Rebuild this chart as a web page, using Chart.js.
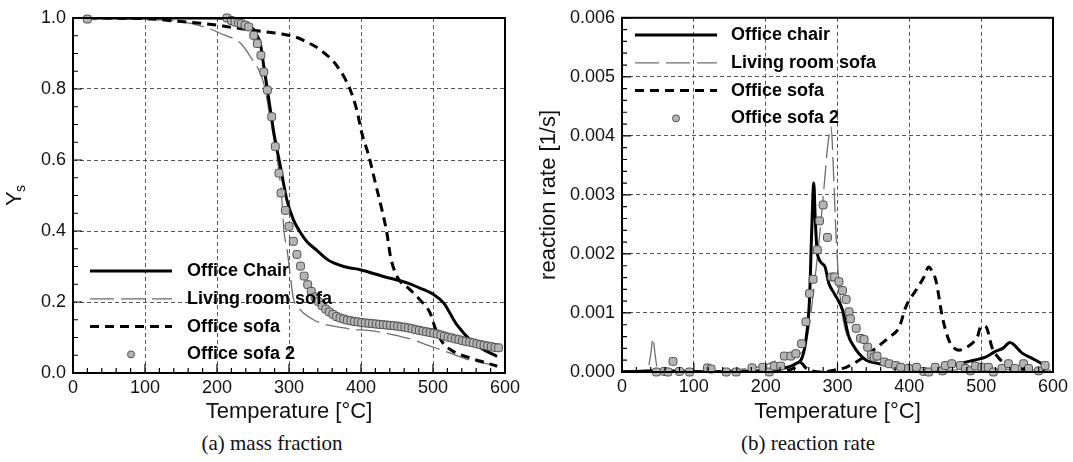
<!DOCTYPE html>
<html>
<head>
<meta charset="utf-8">
<script src="https://cdn.jsdelivr.net/npm/chart.js@4.4.1/dist/chart.umd.min.js"></script>
<style>
  body { margin: 0; background: #fff; width: 1073px; height: 462px; position: relative; overflow: hidden; }
  canvas { position: absolute; top: 0; }
  #massChart { left: 0; }
  #rateChart { left: 536px; }
  .cap { position: absolute; top: 431px; font: 21px "Liberation Serif", "Times New Roman", serif; color: #111;
         transform: translateX(-50%); white-space: nowrap; }
</style>
</head>
<body>
<canvas id="massChart" width="536" height="425"></canvas>
<canvas id="rateChart" width="537" height="425"></canvas>
<div class="cap" style="left:272px">(a) mass fraction</div>
<div class="cap" style="left:808px">(b) reaction rate</div>
<script>
// ---- (a) mass fraction ----
const chairT_a = [20, 100, 200, 225, 242, 251, 256, 260, 265, 272, 279, 288, 297, 306, 316, 325, 339, 353, 362, 376, 385, 399, 431, 464, 482, 501, 515, 533, 556, 575, 589];
const chairY_a = [1.0, 1.0, 1.0, 0.995, 0.981, 0.967, 0.948, 0.93, 0.864, 0.77, 0.676, 0.582, 0.488, 0.432, 0.395, 0.37, 0.345, 0.32, 0.31, 0.30, 0.296, 0.291, 0.272, 0.254, 0.239, 0.221, 0.197, 0.136, 0.085, 0.061, 0.047];

const livingT_a = [20, 100, 150, 181, 209, 232, 249, 260, 266, 272, 279, 286, 290, 293, 297, 302, 306, 313, 320, 334, 348, 362, 376, 390, 410, 430, 450, 470, 490, 510, 525, 545, 565, 590];
const livingY_a = [1.0, 0.996, 0.99, 0.976, 0.953, 0.93, 0.883, 0.845, 0.807, 0.74, 0.66, 0.57, 0.49, 0.40, 0.352, 0.272, 0.21, 0.185, 0.169, 0.15, 0.138, 0.132, 0.127, 0.123, 0.12, 0.114, 0.105, 0.095, 0.08, 0.066, 0.055, 0.04, 0.03, 0.021];

const sofaT_a = [20, 100, 150, 200, 215, 234, 263, 290, 311, 323, 343, 367, 385, 394, 401, 411, 420, 429, 436, 441, 450, 468, 482, 496, 503, 512, 524, 552, 575, 589];
const sofaY_a = [1.0, 0.998, 0.99, 0.98, 0.975, 0.97, 0.962, 0.955, 0.945, 0.934, 0.911, 0.864, 0.798, 0.742, 0.677, 0.61, 0.535, 0.46, 0.394, 0.328, 0.272, 0.235, 0.206, 0.169, 0.127, 0.09, 0.066, 0.042, 0.028, 0.019];

const sofa2T_a = [20, 214, 220, 225, 230, 234, 239, 244, 251, 256,
  261, 265, 270, 276, 281, 286, 289, 295, 300, 306,
  311, 316, 321, 326, 331, 336, 341, 346, 351, 356,
  361, 366, 371, 376, 381, 386, 391, 396, 401, 406,
  411, 416, 421, 426, 431, 436, 441, 446, 451, 456,
  461, 466, 471, 476, 481, 486, 491, 496, 501, 506,
  511, 516, 521, 526, 531, 536, 541, 546, 551, 556,
  561, 566, 571, 576, 581, 586, 591];
const sofa2Y_a = [0.997, 1.0, 0.993, 0.989, 0.986, 0.984, 0.98, 0.975, 0.951, 0.928,
  0.895, 0.848, 0.797, 0.722, 0.638, 0.563, 0.507, 0.458, 0.413, 0.371,
  0.334, 0.301, 0.273, 0.249, 0.23, 0.214, 0.201, 0.19, 0.18, 0.172,
  0.165, 0.159, 0.155, 0.152, 0.149, 0.147, 0.145, 0.144, 0.142, 0.141,
  0.14, 0.139, 0.138, 0.137, 0.136, 0.135, 0.134, 0.133, 0.132, 0.13,
  0.129, 0.127, 0.125, 0.122, 0.12, 0.118, 0.116, 0.114, 0.112, 0.11,
  0.107, 0.104, 0.101, 0.099, 0.096, 0.094, 0.091, 0.089, 0.087, 0.085,
  0.082, 0.08, 0.078, 0.076, 0.074, 0.072, 0.071];

// ---- (b) reaction rate ----
const chairT_b = [0, 20, 50, 100, 150, 200, 215, 224, 242, 251, 256, 261, 264, 267, 269, 272, 282, 288, 296, 307, 316, 322, 330, 340, 358, 378, 402, 426, 450, 473, 490, 506, 520, 530, 540, 557, 576, 589];
const chairR_b = [0, 0.00001, 0.00002, 0.00001, 0, 0.00002, 0.00004, 0.00006, 0.00014, 0.00025, 0.00054, 0.00122, 0.00235, 0.0032, 0.0026, 0.002, 0.0018, 0.0015, 0.00132, 0.00105, 0.00059, 0.00045, 0.00031, 0.0002, 0.00014, 0.0001, 0.00004, 0.00004, 0.00007, 0.00015, 0.0002, 0.00025, 0.00035, 0.0004, 0.0005, 0.00032, 0.0002, 0.00011];

const livingT_b = [0, 20, 35, 40, 43, 46, 50, 100, 150, 180, 196, 210, 228, 251, 258, 262, 267, 275, 281, 287, 291, 295, 298, 302, 308, 314, 320, 335, 354, 380, 400, 450, 500, 550, 600];
const livingR_b = [0, 0.00002, 0.00003, 0.0003, 0.00057, 0.0003, 0.00002, 0, 0.00003, 0.00007, 0.0001, 0.00017, 0.00025, 0.00034, 0.0006, 0.0009, 0.0014, 0.0023, 0.0031, 0.0039, 0.00415, 0.0032, 0.0023, 0.0015, 0.00088, 0.0006, 0.00049, 0.00026, 0.00015, 0.0001, 0.00005, 0.00003, 0.00005, 0.00004, 0.00003];

const sofaT_b = [0, 50, 100, 150, 200, 230, 245, 250, 255, 265, 280, 295, 312, 330, 353, 372, 386, 395, 410, 420, 427, 432, 437, 446, 455, 463, 469, 480, 487, 495, 499, 504, 508, 515, 525, 538, 550, 575, 590];
const sofaR_b = [0, 0.00001, 0, 0.00001, 0.00002, 0.00003, 0.0001, 0.00015, 0.00008, 0.00002, 0, 0.00003, 0.00008, 0.0002, 0.0004, 0.00059, 0.00076, 0.0011, 0.0014, 0.0016, 0.00178, 0.0017, 0.00155, 0.00093, 0.00054, 0.0004, 0.00037, 0.00042, 0.00048, 0.0006, 0.00076, 0.00078, 0.00074, 0.00042, 0.00023, 0.00011, 0.00006, 0.00003, 0.00002];

const sofa2T_b = [48, 59, 64, 71, 80, 94, 119, 124, 145, 159,
  181, 196, 205, 212, 221, 226, 235, 242, 250, 256,
  261, 266, 272, 275, 280, 286, 292, 296, 302, 307,
  312, 316, 318, 326, 332, 337, 342, 347, 351, 355,
  365, 372, 381, 388, 399, 410, 420, 427, 436, 446,
  450, 459, 471, 478, 485, 492, 501, 510, 517, 529,
  538, 547, 559, 566, 580, 589];
const sofa2R_b = [0, 0.00001, 0, 0.00018, 0.00001, 0, 0.00007, 0.00005, 0, 0,
  0.00007, 0.00008, 0, 0.0001, 0.0001, 0.00027, 0.00027, 0.00031, 0.00048, 0.00085,
  0.00133, 0.00157, 0.00207, 0.00256, 0.00283, 0.00228, 0.00161, 0.00161, 0.00153, 0.00138,
  0.00123, 0.00102, 0.0009, 0.00074, 0.00057, 0.00055, 0.00042, 0.00029, 0.00025, 0.00027,
  0.00017, 0.00014, 0.00011, 0.00008, 0.00006, 0.00008, 0.00001, 0, 0.00008, 0.00002,
  0.00011, 0.00014, 0.00011, 0.00006, 0.00002, 0.0001, 0.00008, 0.00008, 0, 0.00006,
  0.00014, 0.00006, 0.00014, 0.00006, 0.00002, 0.00011];

const xTicks = [0, 100, 200, 300, 400, 500, 600];

Chart.defaults.font.family = "'Liberation Sans', Arial, sans-serif";
Chart.defaults.color = '#111';

const pts = (xs, ys) => xs.map((x, i) => ({ x, y: ys[i] }));

function lineSet(label, xs, ys, style, order) {
  return Object.assign({
    label, data: pts(xs, ys), showLine: true, pointRadius: 0,
    cubicInterpolationMode: 'monotone', fill: false, order
  }, style);
}

const solid = { borderColor: '#000', borderWidth: 3 };
const longDash = { borderColor: '#6e6e6e', borderWidth: 1.3, borderDash: [24, 7] };
const shortDash = { borderColor: '#000', borderWidth: 3, borderDash: [9, 6] };
const markers = {
  showLine: false, pointStyle: 'rectRounded', pointRadius: 4.6,
  backgroundColor: '#b4b4b4', borderColor: '#505050', pointBorderWidth: 1, clip: false, order: 0
};

// frame, inward ticks and an in-plot legend
const framePlugin = {
  id: 'frame',
  afterDatasetsDraw(chart, args, o) {
    const { ctx, chartArea: a, scales: { x, y } } = chart;
    ctx.save();
    ctx.strokeStyle = '#000';
    ctx.lineWidth = 1.2;
    ctx.setLineDash([]);
    ctx.beginPath();
    const nx = Math.round((x.max - x.min) / o.xMinor);
    for (let i = 0; i <= nx; i++) {
      const px = x.getPixelForValue(x.min + i * o.xMinor);
      const len = i % o.xEvery === 0 ? 9 : 5;
      ctx.moveTo(px, a.bottom); ctx.lineTo(px, a.bottom - len);
    }
    const ny = Math.round((y.max - y.min) / o.yMinor);
    for (let i = 0; i <= ny; i++) {
      const py = y.getPixelForValue(y.min + i * o.yMinor);
      const len = i % o.yEvery === 0 ? 9 : 5;
      ctx.moveTo(a.left, py); ctx.lineTo(a.left + len, py);
    }
    ctx.stroke();
    ctx.lineWidth = 2;
    ctx.strokeRect(a.left, a.top, a.right - a.left, a.bottom - a.top);

    const L = o.legend;
    ctx.font = "bold 18px 'Liberation Sans', Arial, sans-serif";
    ctx.textBaseline = 'middle';
    chart.data.datasets.forEach((ds, i) => {
      const cy = L.y + i * L.dy;
      if (ds.showLine) {
        ctx.strokeStyle = ds.borderColor;
        ctx.lineWidth = ds.borderWidth;
        ctx.setLineDash(ds.borderDash || []);
        ctx.beginPath(); ctx.moveTo(L.x0, cy); ctx.lineTo(L.x1, cy); ctx.stroke();
        ctx.setLineDash([]);
      } else {
        ctx.fillStyle = ds.backgroundColor;
        ctx.strokeStyle = ds.borderColor;
        ctx.lineWidth = 1;
        ctx.beginPath(); ctx.arc((L.x0 + L.x1) / 2, cy, 3.5, 0, Math.PI * 2); ctx.fill(); ctx.stroke();
      }
      ctx.fillStyle = '#000';
      ctx.fillText(ds.label, L.tx, cy);
    });

    if (o.ysTitle) {
      ctx.translate(o.ysTitle.x, o.ysTitle.y);
      ctx.rotate(-Math.PI / 2);
      ctx.fillStyle = '#111';
      ctx.textBaseline = 'middle';
      ctx.font = "22px 'Liberation Sans', Arial, sans-serif";
      ctx.fillText('Y', -11, 0);
      ctx.font = "14px 'Liberation Sans', Arial, sans-serif";
      ctx.fillText('s', 3, 6);
    }
    ctx.restore();
  }
};

function gridColor(max) {
  return c => {
    const v = c.tick ? c.tick.value : null;
    if (v === null || Math.abs(v) < 1e-12 || Math.abs(v - max) < 1e-9) return 'rgba(0,0,0,0)';
    return '#555';
  };
}

function makeOptions(cfg) {
  return {
    responsive: false,
    animation: false,
    layout: { padding: cfg.padding },
    plugins: { legend: { display: false }, tooltip: { enabled: false }, frame: cfg.frame },
    scales: {
      x: {
        type: 'linear', min: 0, max: 600,
        afterBuildTicks: s => { s.ticks = xTicks.map(v => ({ value: v })); },
        ticks: { font: { size: 18 }, padding: 4, maxRotation: 0, color: '#111' },
        grid: { color: gridColor(600), lineWidth: 1, drawTicks: false },
        border: { display: false, dash: [4, 3] },
        title: { display: true, text: 'Temperature [°C]', font: { size: 22 }, color: '#111', padding: { top: 0, bottom: 0 } },
        afterFit: s => { s.height = cfg.xHeight; }
      },
      y: {
        type: 'linear', min: 0, max: cfg.yMax,
        ticks: { stepSize: cfg.yStep, font: { size: 18 }, padding: 7, color: '#111', callback: v => v.toFixed(cfg.yDigits) },
        grid: { color: gridColor(cfg.yMax), lineWidth: 1, drawTicks: false },
        border: { display: false, dash: [4, 3] },
        title: cfg.yTitle,
        afterFit: s => { s.width = cfg.yWidth; }
      }
    }
  };
}

new Chart(document.getElementById('massChart'), {
  type: 'scatter',
  data: {
    datasets: [
      lineSet('Office Chair', chairT_a, chairY_a, solid, 1),
      lineSet('Living room sofa', livingT_a, livingY_a, longDash, 3),
      lineSet('Office sofa', sofaT_a, sofaY_a, shortDash, 2),
      Object.assign({ label: 'Office sofa 2', data: pts(sofa2T_a, sofa2Y_a) }, markers)
    ]
  },
  options: makeOptions({
    padding: { left: 0, top: 18, right: 31, bottom: 0 },
    xHeight: 52, yWidth: 73, yMax: 1, yStep: 0.2, yDigits: 1,
    yTitle: { display: false },
    frame: {
      xMinor: 20, xEvery: 5, yMinor: 0.05, yEvery: 4,
      legend: { x0: 90, x1: 172, tx: 187, y: 271, dy: 27.8 },
      ysTitle: { x: 15, y: 195 }
    }
  }),
  plugins: [framePlugin]
});

new Chart(document.getElementById('rateChart'), {
  type: 'scatter',
  data: {
    datasets: [
      lineSet('Office chair', chairT_b, chairR_b, solid, 1),
      lineSet('Living room sofa', livingT_b, livingR_b, longDash, 3),
      lineSet('Office sofa', sofaT_b, sofaR_b, shortDash, 2),
      Object.assign({ label: 'Office sofa 2', data: pts(sofa2T_b, sofa2R_b) }, markers)
    ]
  },
  options: makeOptions({
    padding: { left: 0, top: 17, right: 20, bottom: 0 },
    xHeight: 53, yWidth: 86, yMax: 0.006, yStep: 0.001, yDigits: 3,
    yTitle: { display: true, text: 'reaction rate [1/s]', font: { size: 22 }, color: '#111', padding: { top: 0, bottom: 0 } },
    frame: {
      xMinor: 20, xEvery: 5, yMinor: 0.0002, yEvery: 5,
      legend: { x0: 99, x1: 181, tx: 195, y: 35, dy: 27.8 }
    }
  }),
  plugins: [framePlugin]
});
</script>
</body>
</html>
